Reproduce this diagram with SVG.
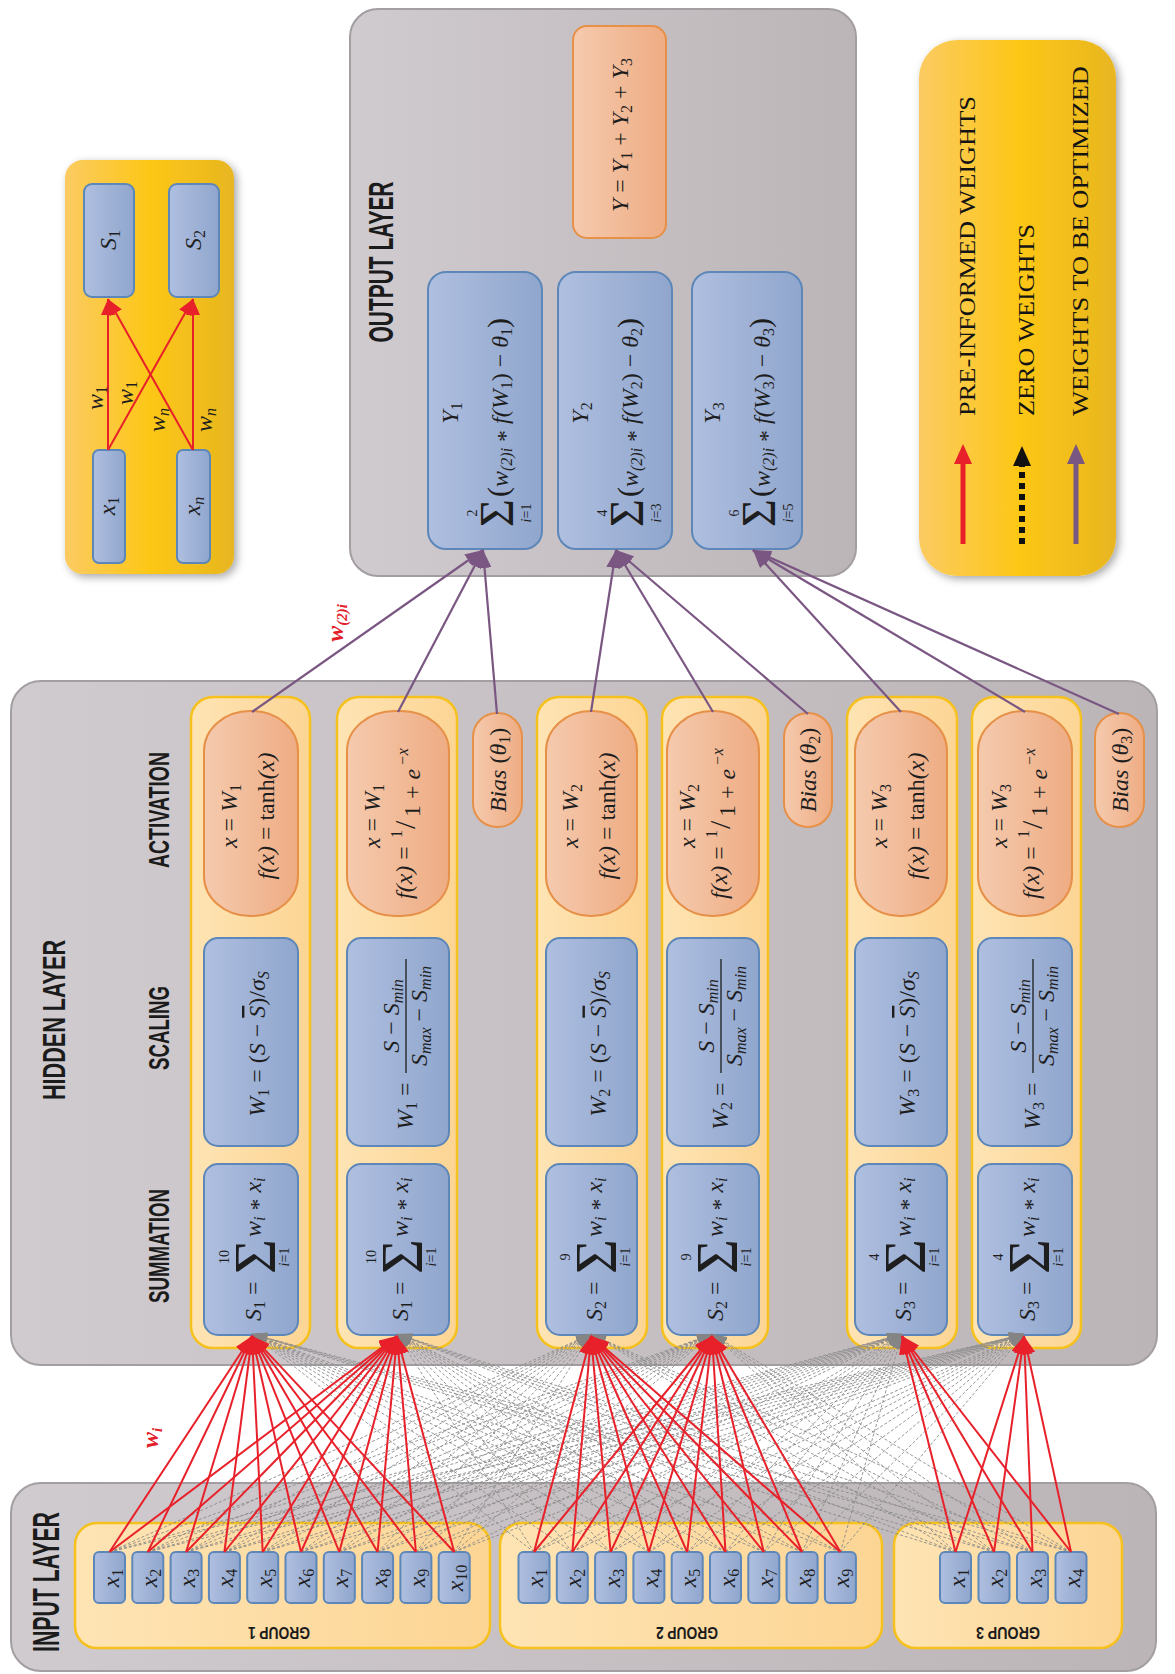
<svg xmlns="http://www.w3.org/2000/svg" width="1175" height="1674" viewBox="0 0 1175 1674">
<defs>
<linearGradient id="gGray" x1="0" y1="0" x2="1" y2="0"><stop offset="0" stop-color="#d0cbcf"/><stop offset="1" stop-color="#bcb5b8"/></linearGradient>
<linearGradient id="gYel" x1="0" y1="0" x2="1" y2="0"><stop offset="0" stop-color="#fbcb62"/><stop offset="0.5" stop-color="#fdc717"/><stop offset="1" stop-color="#e8b621"/></linearGradient>
<linearGradient id="gCol" x1="0" y1="0" x2="1" y2="0"><stop offset="0" stop-color="#fee4b4"/><stop offset="1" stop-color="#fcd594"/></linearGradient>
<linearGradient id="gBlue" x1="0" y1="0" x2="1" y2="0"><stop offset="0" stop-color="#afbfe0"/><stop offset="1" stop-color="#90a6cd"/></linearGradient>
<linearGradient id="gOra" x1="0" y1="0" x2="1" y2="0"><stop offset="0" stop-color="#f5caae"/><stop offset="1" stop-color="#eeac83"/></linearGradient>
<filter id="sh" x="-15%" y="-10%" width="135%" height="125%"><feDropShadow dx="3" dy="3" stdDeviation="4" flood-color="#000" flood-opacity="0.35"/></filter>
<marker id="aR" markerUnits="userSpaceOnUse" viewBox="0 0 10 10" refX="10" refY="5" markerWidth="18" markerHeight="15" orient="auto" preserveAspectRatio="none"><path d="M0 0L10 5L0 10z" fill="#e8202a"/></marker>
<marker id="aR2" markerUnits="userSpaceOnUse" viewBox="0 0 10 10" refX="10" refY="5" markerWidth="16" markerHeight="14" orient="auto" preserveAspectRatio="none"><path d="M0 0L10 5L0 10z" fill="#e8202a"/></marker>
<marker id="aG" markerUnits="userSpaceOnUse" viewBox="0 0 10 10" refX="10" refY="5" markerWidth="15" markerHeight="11" orient="auto" preserveAspectRatio="none"><path d="M0 0L10 5L0 10z" fill="#858585"/></marker>
<marker id="aP" markerUnits="userSpaceOnUse" viewBox="0 0 10 10" refX="10" refY="5" markerWidth="18" markerHeight="14" orient="auto" preserveAspectRatio="none"><path d="M0 0L10 5L0 10z" fill="#7a5682"/></marker>
<style>
.hd{font-family:"Liberation Sans Narrow","Liberation Sans",Arial,sans-serif;font-weight:bold;fill:#1b1b1b;text-anchor:middle}
.m{font-family:"Liberation Serif","Times New Roman",serif;font-style:italic;font-size:24px;fill:#1e1e1e}
.up{font-style:normal}
.sb{font-size:16px}
.sd{font-size:16px;font-style:normal}
.lim{font-family:"Liberation Serif","Times New Roman",serif;font-size:14px;fill:#1e1e1e;text-anchor:middle}
.sig{font-family:"Liberation Serif","Times New Roman",serif;font-size:60px;fill:#1e1e1e}
.sig2{font-family:"Liberation Serif","Times New Roman",serif;font-size:48px;fill:#1e1e1e}
.lg{font-family:"Liberation Serif","Times New Roman",serif;font-size:24px;fill:#141414}
.rl{font-family:"Liberation Serif","Times New Roman",serif;font-style:italic;font-weight:bold;font-size:24px;fill:#e3202a}
.pnl{fill:url(#gGray);stroke:#a39ea1;stroke-width:2}
.col{fill:url(#gCol);stroke:#f6c11c;stroke-width:2.5}
.blu{fill:url(#gBlue);stroke:#5d87b9;stroke-width:2}
.ora{fill:url(#gOra);stroke:#e69048;stroke-width:2}
.yel{fill:url(#gYel);filter:url(#sh)}
.red{stroke:#e8202a;stroke-width:2;fill:none;marker-end:url(#aR)}
.red2{stroke:#e8202a;stroke-width:2;fill:none;marker-end:url(#aR2)}
.gry{stroke:#8a8a8a;stroke-width:0.9;stroke-dasharray:3 2;fill:none;marker-end:url(#aG)}
.pur{stroke:#7a5682;stroke-width:2.2;fill:none;marker-end:url(#aP)}
</style>
</defs>

<!-- panels -->
<g id="panel-output"><rect class="pnl" x="350" y="9" width="506" height="567" rx="28"/>
<g transform="translate(380,262) rotate(-90)"><text class="hd" x="0" y="12.5" font-size="35" textLength="161" lengthAdjust="spacingAndGlyphs">OUTPUT LAYER</text></g></g>
<g id="panel-hidden"><rect class="pnl" x="11" y="681" width="1146" height="684" rx="30"/>
<g transform="translate(53,1020) rotate(-90)"><text class="hd" x="0" y="11.5" font-size="32" textLength="160" lengthAdjust="spacingAndGlyphs">HIDDEN LAYER</text></g>
<g transform="translate(158,810) rotate(-90)"><text class="hd" x="0" y="10.5" font-size="29" textLength="116" lengthAdjust="spacingAndGlyphs">ACTIVATION</text></g>
<g transform="translate(158,1028) rotate(-90)"><text class="hd" x="0" y="10.5" font-size="29" textLength="84" lengthAdjust="spacingAndGlyphs">SCALING</text></g>
<g transform="translate(158,1246) rotate(-90)"><text class="hd" x="0" y="10.5" font-size="29" textLength="114" lengthAdjust="spacingAndGlyphs">SUMMATION</text></g></g>
<g id="panel-input"><rect class="pnl" x="11" y="1483" width="1145" height="188" rx="30"/>
<g transform="translate(46,1582) rotate(-90)"><text class="hd" x="0" y="13" font-size="36" textLength="140" lengthAdjust="spacingAndGlyphs">INPUT LAYER</text></g></g>

<!-- legend top-left -->
<g id="legend-mini">
<rect class="yel" x="65" y="160" width="169" height="414" rx="18"/>
<g id="mini-x1"><rect class="blu" x="93" y="450" width="32" height="113" rx="6"/><g transform="translate(109,506) rotate(-90)"><text class="m" x="0" y="6" text-anchor="middle">x<tspan class="sd" dy="4">1</tspan></text></g></g>
<g id="mini-xn"><rect class="blu" x="177" y="450" width="33" height="113" rx="6"/><g transform="translate(193.5,506) rotate(-90)"><text class="m" x="0" y="6" text-anchor="middle">x<tspan class="sb" dy="4">n</tspan></text></g></g>
<g id="mini-s1"><rect class="blu" x="84" y="184" width="50" height="113" rx="8"/><g transform="translate(109,240) rotate(-90)"><text class="m" x="0" y="7" text-anchor="middle">S<tspan class="sd" dy="4">1</tspan></text></g></g>
<g id="mini-s2"><rect class="blu" x="169" y="184" width="50" height="113" rx="8"/><g transform="translate(194,240) rotate(-90)"><text class="m" x="0" y="7" text-anchor="middle">S<tspan class="sd" dy="4">2</tspan></text></g></g>
<g id="mini-arrows">
<path class="red2" d="M108 450L108 299"/><path class="red2" d="M108 450L193 299"/><path class="red2" d="M193 450L193 299"/><path class="red2" d="M193 450L108 299"/>
</g>
<g transform="translate(98,398) rotate(-90)"><text class="m" x="0" y="5" text-anchor="middle" font-size="22">w<tspan class="sd" dy="4">1</tspan></text></g>
<g transform="translate(128,393) rotate(-90)"><text class="m" x="0" y="5" text-anchor="middle" font-size="22">w<tspan class="sd" dy="4">1</tspan></text></g>
<g transform="translate(160,420) rotate(-90)"><text class="m" x="0" y="5" text-anchor="middle" font-size="22">w<tspan class="sb" dy="4">n</tspan></text></g>
<g transform="translate(207,420) rotate(-90)"><text class="m" x="0" y="5" text-anchor="middle" font-size="22">w<tspan class="sb" dy="4">n</tspan></text></g>
</g>

<!-- legend right -->
<g id="legend">
<rect class="yel" x="919" y="40" width="197" height="536" rx="38"/>
<path d="M963 544L963 460" stroke="#e8202a" stroke-width="5"/><path d="M954 464L963 444L972 464z" fill="#e8202a"/>
<path d="M1022 544L1022 466" stroke="#111" stroke-width="6" stroke-dasharray="6 5"/><path d="M1013 466L1022 446L1031 466z" fill="#111"/>
<path d="M1076 544L1076 460" stroke="#7a5682" stroke-width="5"/><path d="M1067 464L1076 444L1085 464z" fill="#7a5682"/>
<text class="lg" transform="translate(975,416) rotate(-90)" textLength="320" lengthAdjust="spacingAndGlyphs">PRE-INFORMED WEIGHTS</text>
<text class="lg" transform="translate(1034,416) rotate(-90)" textLength="192" lengthAdjust="spacingAndGlyphs">ZERO WEIGHTS</text>
<text class="lg" transform="translate(1088,416) rotate(-90)" textLength="350" lengthAdjust="spacingAndGlyphs">WEIGHTS TO BE OPTIMIZED</text>
</g>

<!-- output nodes -->
<g id="out-Y"><rect class="ora" x="573" y="26" width="93" height="212" rx="14"/>
<g transform="translate(620,133) rotate(-90)"><text class="m" x="-2" y="8" text-anchor="middle">Y <tspan class="up">=</tspan> Y<tspan class="sd" dy="4">1</tspan><tspan class="up" dy="-4"> + </tspan>Y<tspan class="sd" dy="4">2</tspan><tspan class="up" dy="-4"> + </tspan>Y<tspan class="sd" dy="4">3</tspan></text></g></g>
<g id="out-Y1"><rect class="blu" x="428" y="272" width="114" height="277" rx="18"/>
<g transform="translate(485,410) rotate(-90)">
<text class="m" x="-3" y="-27" text-anchor="middle">Y<tspan class="sd" dy="4">1</tspan></text>
<text class="sig2" x="-117" y="28">Σ</text><text class="lim" x="-103" y="-8">2</text><text class="lim" x="-103" y="46"><tspan font-style="italic">i</tspan>=1</text>
<text class="m" x="-87" y="23"><tspan class="up" font-size="30">(</tspan>w<tspan class="sb" dy="4">(2)i</tspan><tspan class="up" dy="1"> *</tspan><tspan dy="-5"> f(W</tspan><tspan class="sd" dy="4">1</tspan><tspan class="up" dy="-4">) − </tspan>θ<tspan class="sd" dy="4">1</tspan><tspan class="up" dy="-4" font-size="30">)</tspan></text>
</g></g>
<g id="out-Y2"><rect class="blu" x="558" y="272" width="114" height="277" rx="18"/>
<g transform="translate(615,410) rotate(-90)">
<text class="m" x="-3" y="-27" text-anchor="middle">Y<tspan class="sd" dy="4">2</tspan></text>
<text class="sig2" x="-117" y="28">Σ</text><text class="lim" x="-103" y="-8">4</text><text class="lim" x="-103" y="46"><tspan font-style="italic">i</tspan>=3</text>
<text class="m" x="-87" y="23"><tspan class="up" font-size="30">(</tspan>w<tspan class="sb" dy="4">(2)i</tspan><tspan class="up" dy="1"> *</tspan><tspan dy="-5"> f(W</tspan><tspan class="sd" dy="4">2</tspan><tspan class="up" dy="-4">) − </tspan>θ<tspan class="sd" dy="4">2</tspan><tspan class="up" dy="-4" font-size="30">)</tspan></text>
</g></g>
<g id="out-Y3"><rect class="blu" x="692" y="272" width="110" height="277" rx="18"/>
<g transform="translate(747,410) rotate(-90)">
<text class="m" x="-3" y="-27" text-anchor="middle">Y<tspan class="sd" dy="4">3</tspan></text>
<text class="sig2" x="-117" y="28">Σ</text><text class="lim" x="-103" y="-8">6</text><text class="lim" x="-103" y="46"><tspan font-style="italic">i</tspan>=5</text>
<text class="m" x="-87" y="23"><tspan class="up" font-size="30">(</tspan>w<tspan class="sb" dy="4">(2)i</tspan><tspan class="up" dy="1"> *</tspan><tspan dy="-5"> f(W</tspan><tspan class="sd" dy="4">3</tspan><tspan class="up" dy="-4">) − </tspan>θ<tspan class="sd" dy="4">3</tspan><tspan class="up" dy="-4" font-size="30">)</tspan></text>
</g></g>

<!-- hidden columns -->
<g id="h-col1"><rect class="col" x="191" y="697" width="119" height="651" rx="22"/>
<g id="act1a"><rect class="ora" x="204" y="711" width="94" height="205" rx="46" ry="40"/>
<g transform="translate(251,813) rotate(-90)"><text class="m" x="-3" y="-14" text-anchor="middle">x <tspan class="up">=</tspan> W<tspan class="sd" dy="4">1</tspan></text><text class="m" x="-3" y="23" text-anchor="middle">f(x) <tspan class="up">= tanh</tspan>(x)</text></g></g>
<g id="scl1a"><rect class="blu" x="204" y="938" width="94" height="208" rx="14"/>
<g transform="translate(251,1042) rotate(-90)"><text class="m" x="-2" y="14" text-anchor="middle">W<tspan class="sd" dy="4">1</tspan><tspan class="up" dy="-4"> = (</tspan>S<tspan class="up"> − </tspan><tspan text-decoration="overline">S</tspan><tspan class="up">)/</tspan>σ<tspan class="sb" dy="4">S</tspan></text></g></g>
<g id="sum1a"><rect class="blu" x="204" y="1164" width="94" height="171" rx="14"/>
<g transform="translate(251,1250) rotate(-90)"><text class="m" x="-71" y="10">S<tspan class="sd" dy="4">1</tspan><tspan class="up" dy="-4"> =</tspan></text><text class="sig" x="-24" y="24">Σ</text><text class="lim" x="-7" y="-22">10</text><text class="lim" x="-7" y="38"><tspan font-style="italic">i</tspan>=1</text><text class="m" x="13" y="10">w<tspan class="sb" dy="4">i</tspan><tspan class="up" dy="1"> * </tspan><tspan dy="-5">x</tspan><tspan class="sb" dy="4">i</tspan></text></g></g>
</g>

<g id="h-col2"><rect class="col" x="337" y="697" width="120" height="651" rx="22"/>
<g id="act1b"><rect class="ora" x="347" y="711" width="102" height="205" rx="48" ry="40"/>
<g transform="translate(398,813) rotate(-90)"><text class="m" x="-3" y="-18" text-anchor="middle">x <tspan class="up">=</tspan> W<tspan class="sd" dy="4">1</tspan></text><text class="m" x="-86" y="14">f(x) <tspan class="up">=</tspan><tspan class="sd" x="-25" y="4">1</tspan><tspan class="up" x="-16" y="17" font-size="30">/</tspan><tspan class="up" x="-4" y="22">1 + </tspan><tspan>e</tspan><tspan class="sb" x="47" y="10">−x</tspan></text></g></g>
<g id="scl1b"><rect class="blu" x="347" y="938" width="102" height="208" rx="14"/>
<g transform="translate(398,1042) rotate(-90)"><text class="m" x="-88" y="15">W<tspan class="sd" dy="4">1</tspan><tspan class="up" dy="-4"> =</tspan></text><text class="m" x="26" y="1" text-anchor="middle">S<tspan class="up"> − </tspan>S<tspan class="sb" dy="4">min</tspan></text><line x1="-31" y1="8" x2="83" y2="8" stroke="#1e1e1e" stroke-width="1.3"/><text class="m" x="26" y="29" text-anchor="middle">S<tspan class="sb" dy="4">max</tspan><tspan class="up" dy="-4"> − </tspan>S<tspan class="sb" dy="4">min</tspan></text></g></g>
<g id="sum1b"><rect class="blu" x="347" y="1164" width="102" height="171" rx="14"/>
<g transform="translate(398,1250) rotate(-90)"><text class="m" x="-71" y="10">S<tspan class="sd" dy="4">1</tspan><tspan class="up" dy="-4"> =</tspan></text><text class="sig" x="-24" y="24">Σ</text><text class="lim" x="-7" y="-22">10</text><text class="lim" x="-7" y="38"><tspan font-style="italic">i</tspan>=1</text><text class="m" x="13" y="10">w<tspan class="sb" dy="4">i</tspan><tspan class="up" dy="1"> * </tspan><tspan dy="-5">x</tspan><tspan class="sb" dy="4">i</tspan></text></g></g>
</g>

<g id="bias1"><rect class="ora" x="473" y="713" width="49" height="114" rx="24"/>
<g transform="translate(497.5,770) rotate(-90)"><text class="m" x="0" y="8" text-anchor="middle">Bias <tspan class="up">(</tspan>θ<tspan class="sd" dy="4">1</tspan><tspan class="up" dy="-4">)</tspan></text></g></g>

<g id="h-col3"><rect class="col" x="537" y="697" width="110" height="651" rx="22"/>
<g id="act2a"><rect class="ora" x="546" y="711" width="91" height="205" rx="45" ry="40"/>
<g transform="translate(591.5,813) rotate(-90)"><text class="m" x="-3" y="-14" text-anchor="middle">x <tspan class="up">=</tspan> W<tspan class="sd" dy="4">2</tspan></text><text class="m" x="-3" y="23" text-anchor="middle">f(x) <tspan class="up">= tanh</tspan>(x)</text></g></g>
<g id="scl2a"><rect class="blu" x="546" y="938" width="91" height="208" rx="14"/>
<g transform="translate(591.5,1042) rotate(-90)"><text class="m" x="-2" y="14" text-anchor="middle">W<tspan class="sd" dy="4">2</tspan><tspan class="up" dy="-4"> = (</tspan>S<tspan class="up"> − </tspan><tspan text-decoration="overline">S</tspan><tspan class="up">)/</tspan>σ<tspan class="sb" dy="4">S</tspan></text></g></g>
<g id="sum2a"><rect class="blu" x="546" y="1164" width="91" height="171" rx="14"/>
<g transform="translate(591.5,1250) rotate(-90)"><text class="m" x="-71" y="10">S<tspan class="sd" dy="4">2</tspan><tspan class="up" dy="-4"> =</tspan></text><text class="sig" x="-24" y="24">Σ</text><text class="lim" x="-7" y="-22">9</text><text class="lim" x="-7" y="38"><tspan font-style="italic">i</tspan>=1</text><text class="m" x="13" y="10">w<tspan class="sb" dy="4">i</tspan><tspan class="up" dy="1"> * </tspan><tspan dy="-5">x</tspan><tspan class="sb" dy="4">i</tspan></text></g></g>
</g>

<g id="h-col4"><rect class="col" x="662" y="697" width="106" height="651" rx="22"/>
<g id="act2b"><rect class="ora" x="667" y="711" width="92" height="205" rx="45" ry="40"/>
<g transform="translate(713,813) rotate(-90)"><text class="m" x="-3" y="-18" text-anchor="middle">x <tspan class="up">=</tspan> W<tspan class="sd" dy="4">2</tspan></text><text class="m" x="-86" y="14">f(x) <tspan class="up">=</tspan><tspan class="sd" x="-25" y="4">1</tspan><tspan class="up" x="-16" y="17" font-size="30">/</tspan><tspan class="up" x="-4" y="22">1 + </tspan><tspan>e</tspan><tspan class="sb" x="47" y="10">−x</tspan></text></g></g>
<g id="scl2b"><rect class="blu" x="667" y="938" width="92" height="208" rx="14"/>
<g transform="translate(713,1042) rotate(-90)"><text class="m" x="-88" y="15">W<tspan class="sd" dy="4">2</tspan><tspan class="up" dy="-4"> =</tspan></text><text class="m" x="26" y="1" text-anchor="middle">S<tspan class="up"> − </tspan>S<tspan class="sb" dy="4">min</tspan></text><line x1="-31" y1="8" x2="83" y2="8" stroke="#1e1e1e" stroke-width="1.3"/><text class="m" x="26" y="29" text-anchor="middle">S<tspan class="sb" dy="4">max</tspan><tspan class="up" dy="-4"> − </tspan>S<tspan class="sb" dy="4">min</tspan></text></g></g>
<g id="sum2b"><rect class="blu" x="667" y="1164" width="92" height="171" rx="14"/>
<g transform="translate(713,1250) rotate(-90)"><text class="m" x="-71" y="10">S<tspan class="sd" dy="4">2</tspan><tspan class="up" dy="-4"> =</tspan></text><text class="sig" x="-24" y="24">Σ</text><text class="lim" x="-7" y="-22">9</text><text class="lim" x="-7" y="38"><tspan font-style="italic">i</tspan>=1</text><text class="m" x="13" y="10">w<tspan class="sb" dy="4">i</tspan><tspan class="up" dy="1"> * </tspan><tspan dy="-5">x</tspan><tspan class="sb" dy="4">i</tspan></text></g></g>
</g>

<g id="bias2"><rect class="ora" x="784" y="713" width="48" height="114" rx="24"/>
<g transform="translate(808,770) rotate(-90)"><text class="m" x="0" y="8" text-anchor="middle">Bias <tspan class="up">(</tspan>θ<tspan class="sd" dy="4">2</tspan><tspan class="up" dy="-4">)</tspan></text></g></g>

<g id="h-col5"><rect class="col" x="847" y="697" width="110" height="651" rx="22"/>
<g id="act3a"><rect class="ora" x="855" y="711" width="92" height="205" rx="45" ry="40"/>
<g transform="translate(901,813) rotate(-90)"><text class="m" x="-3" y="-14" text-anchor="middle">x <tspan class="up">=</tspan> W<tspan class="sd" dy="4">3</tspan></text><text class="m" x="-3" y="23" text-anchor="middle">f(x) <tspan class="up">= tanh</tspan>(x)</text></g></g>
<g id="scl3a"><rect class="blu" x="855" y="938" width="92" height="208" rx="14"/>
<g transform="translate(901,1042) rotate(-90)"><text class="m" x="-2" y="14" text-anchor="middle">W<tspan class="sd" dy="4">3</tspan><tspan class="up" dy="-4"> = (</tspan>S<tspan class="up"> − </tspan><tspan text-decoration="overline">S</tspan><tspan class="up">)/</tspan>σ<tspan class="sb" dy="4">S</tspan></text></g></g>
<g id="sum3a"><rect class="blu" x="855" y="1164" width="92" height="171" rx="14"/>
<g transform="translate(901,1250) rotate(-90)"><text class="m" x="-71" y="10">S<tspan class="sd" dy="4">3</tspan><tspan class="up" dy="-4"> =</tspan></text><text class="sig" x="-24" y="24">Σ</text><text class="lim" x="-7" y="-22">4</text><text class="lim" x="-7" y="38"><tspan font-style="italic">i</tspan>=1</text><text class="m" x="13" y="10">w<tspan class="sb" dy="4">i</tspan><tspan class="up" dy="1"> * </tspan><tspan dy="-5">x</tspan><tspan class="sb" dy="4">i</tspan></text></g></g>
</g>

<g id="h-col6"><rect class="col" x="972" y="697" width="109" height="651" rx="22"/>
<g id="act3b"><rect class="ora" x="978" y="711" width="94" height="205" rx="46" ry="40"/>
<g transform="translate(1025,813) rotate(-90)"><text class="m" x="-3" y="-18" text-anchor="middle">x <tspan class="up">=</tspan> W<tspan class="sd" dy="4">3</tspan></text><text class="m" x="-86" y="14">f(x) <tspan class="up">=</tspan><tspan class="sd" x="-25" y="4">1</tspan><tspan class="up" x="-16" y="17" font-size="30">/</tspan><tspan class="up" x="-4" y="22">1 + </tspan><tspan>e</tspan><tspan class="sb" x="47" y="10">−x</tspan></text></g></g>
<g id="scl3b"><rect class="blu" x="978" y="938" width="94" height="208" rx="14"/>
<g transform="translate(1025,1042) rotate(-90)"><text class="m" x="-88" y="15">W<tspan class="sd" dy="4">3</tspan><tspan class="up" dy="-4"> =</tspan></text><text class="m" x="26" y="1" text-anchor="middle">S<tspan class="up"> − </tspan>S<tspan class="sb" dy="4">min</tspan></text><line x1="-31" y1="8" x2="83" y2="8" stroke="#1e1e1e" stroke-width="1.3"/><text class="m" x="26" y="29" text-anchor="middle">S<tspan class="sb" dy="4">max</tspan><tspan class="up" dy="-4"> − </tspan>S<tspan class="sb" dy="4">min</tspan></text></g></g>
<g id="sum3b"><rect class="blu" x="978" y="1164" width="94" height="171" rx="14"/>
<g transform="translate(1025,1250) rotate(-90)"><text class="m" x="-71" y="10">S<tspan class="sd" dy="4">3</tspan><tspan class="up" dy="-4"> =</tspan></text><text class="sig" x="-24" y="24">Σ</text><text class="lim" x="-7" y="-22">4</text><text class="lim" x="-7" y="38"><tspan font-style="italic">i</tspan>=1</text><text class="m" x="13" y="10">w<tspan class="sb" dy="4">i</tspan><tspan class="up" dy="1"> * </tspan><tspan dy="-5">x</tspan><tspan class="sb" dy="4">i</tspan></text></g></g>
</g>

<g id="bias3"><rect class="ora" x="1095" y="713" width="49" height="114" rx="24"/>
<g transform="translate(1119.5,770) rotate(-90)"><text class="m" x="0" y="8" text-anchor="middle">Bias <tspan class="up">(</tspan>θ<tspan class="sd" dy="4">3</tspan><tspan class="up" dy="-4">)</tspan></text></g></g>

<!-- input groups -->
<g id="group1"><rect class="col" x="75" y="1523" width="415" height="125" rx="22"/>
<g transform="translate(279,1633) rotate(180)"><text class="hd" x="0" y="6" font-size="17" textLength="62" lengthAdjust="spacingAndGlyphs">GROUP 1</text></g>
<g id="g1x1"><rect class="blu" x="94" y="1552" width="31" height="51" rx="5"/><g transform="translate(109.5,1578) rotate(-90)"><text class="m" x="0" y="9" text-anchor="middle">x<tspan class="sd" dy="4">1</tspan></text></g></g>
<g id="g1x2"><rect class="blu" x="132.3" y="1552" width="31" height="51" rx="5"/><g transform="translate(147.8,1578) rotate(-90)"><text class="m" x="0" y="9" text-anchor="middle">x<tspan class="sd" dy="4">2</tspan></text></g></g>
<g id="g1x3"><rect class="blu" x="170.6" y="1552" width="31" height="51" rx="5"/><g transform="translate(186.1,1578) rotate(-90)"><text class="m" x="0" y="9" text-anchor="middle">x<tspan class="sd" dy="4">3</tspan></text></g></g>
<g id="g1x4"><rect class="blu" x="208.9" y="1552" width="31" height="51" rx="5"/><g transform="translate(224.4,1578) rotate(-90)"><text class="m" x="0" y="9" text-anchor="middle">x<tspan class="sd" dy="4">4</tspan></text></g></g>
<g id="g1x5"><rect class="blu" x="247.2" y="1552" width="31" height="51" rx="5"/><g transform="translate(262.7,1578) rotate(-90)"><text class="m" x="0" y="9" text-anchor="middle">x<tspan class="sd" dy="4">5</tspan></text></g></g>
<g id="g1x6"><rect class="blu" x="285.5" y="1552" width="31" height="51" rx="5"/><g transform="translate(301,1578) rotate(-90)"><text class="m" x="0" y="9" text-anchor="middle">x<tspan class="sd" dy="4">6</tspan></text></g></g>
<g id="g1x7"><rect class="blu" x="323.8" y="1552" width="31" height="51" rx="5"/><g transform="translate(339.3,1578) rotate(-90)"><text class="m" x="0" y="9" text-anchor="middle">x<tspan class="sd" dy="4">7</tspan></text></g></g>
<g id="g1x8"><rect class="blu" x="362.1" y="1552" width="31" height="51" rx="5"/><g transform="translate(377.6,1578) rotate(-90)"><text class="m" x="0" y="9" text-anchor="middle">x<tspan class="sd" dy="4">8</tspan></text></g></g>
<g id="g1x9"><rect class="blu" x="400.4" y="1552" width="31" height="51" rx="5"/><g transform="translate(415.9,1578) rotate(-90)"><text class="m" x="0" y="9" text-anchor="middle">x<tspan class="sd" dy="4">9</tspan></text></g></g>
<g id="g1x10"><rect class="blu" x="438.7" y="1552" width="31" height="51" rx="5"/><g transform="translate(454.2,1578) rotate(-90)"><text class="m" x="0" y="9" text-anchor="middle">x<tspan class="sd" dy="4">10</tspan></text></g></g>
</g>
<g id="group2"><rect class="col" x="500" y="1523" width="382" height="125" rx="22"/>
<g transform="translate(687,1633) rotate(180)"><text class="hd" x="0" y="6" font-size="17" textLength="62" lengthAdjust="spacingAndGlyphs">GROUP 2</text></g>
<g id="g2x1"><rect class="blu" x="518.5" y="1552" width="31" height="51" rx="5"/><g transform="translate(534,1578) rotate(-90)"><text class="m" x="0" y="9" text-anchor="middle">x<tspan class="sd" dy="4">1</tspan></text></g></g>
<g id="g2x2"><rect class="blu" x="556.8" y="1552" width="31" height="51" rx="5"/><g transform="translate(572.3,1578) rotate(-90)"><text class="m" x="0" y="9" text-anchor="middle">x<tspan class="sd" dy="4">2</tspan></text></g></g>
<g id="g2x3"><rect class="blu" x="595.1" y="1552" width="31" height="51" rx="5"/><g transform="translate(610.6,1578) rotate(-90)"><text class="m" x="0" y="9" text-anchor="middle">x<tspan class="sd" dy="4">3</tspan></text></g></g>
<g id="g2x4"><rect class="blu" x="633.4" y="1552" width="31" height="51" rx="5"/><g transform="translate(648.9,1578) rotate(-90)"><text class="m" x="0" y="9" text-anchor="middle">x<tspan class="sd" dy="4">4</tspan></text></g></g>
<g id="g2x5"><rect class="blu" x="671.7" y="1552" width="31" height="51" rx="5"/><g transform="translate(687.2,1578) rotate(-90)"><text class="m" x="0" y="9" text-anchor="middle">x<tspan class="sd" dy="4">5</tspan></text></g></g>
<g id="g2x6"><rect class="blu" x="710" y="1552" width="31" height="51" rx="5"/><g transform="translate(725.5,1578) rotate(-90)"><text class="m" x="0" y="9" text-anchor="middle">x<tspan class="sd" dy="4">6</tspan></text></g></g>
<g id="g2x7"><rect class="blu" x="748.3" y="1552" width="31" height="51" rx="5"/><g transform="translate(763.8,1578) rotate(-90)"><text class="m" x="0" y="9" text-anchor="middle">x<tspan class="sd" dy="4">7</tspan></text></g></g>
<g id="g2x8"><rect class="blu" x="786.6" y="1552" width="31" height="51" rx="5"/><g transform="translate(802.1,1578) rotate(-90)"><text class="m" x="0" y="9" text-anchor="middle">x<tspan class="sd" dy="4">8</tspan></text></g></g>
<g id="g2x9"><rect class="blu" x="824.9" y="1552" width="31" height="51" rx="5"/><g transform="translate(840.4,1578) rotate(-90)"><text class="m" x="0" y="9" text-anchor="middle">x<tspan class="sd" dy="4">9</tspan></text></g></g>
</g>
<g id="group3"><rect class="col" x="894" y="1523" width="228" height="125" rx="22"/>
<g transform="translate(1008,1633) rotate(180)"><text class="hd" x="0" y="6" font-size="17" textLength="64" lengthAdjust="spacingAndGlyphs">GROUP 3</text></g>
<g id="g3x1"><rect class="blu" x="940" y="1552" width="31" height="51" rx="5"/><g transform="translate(955.5,1578) rotate(-90)"><text class="m" x="0" y="9" text-anchor="middle">x<tspan class="sd" dy="4">1</tspan></text></g></g>
<g id="g3x2"><rect class="blu" x="978.5" y="1552" width="31" height="51" rx="5"/><g transform="translate(994,1578) rotate(-90)"><text class="m" x="0" y="9" text-anchor="middle">x<tspan class="sd" dy="4">2</tspan></text></g></g>
<g id="g3x3"><rect class="blu" x="1017" y="1552" width="31" height="51" rx="5"/><g transform="translate(1032.5,1578) rotate(-90)"><text class="m" x="0" y="9" text-anchor="middle">x<tspan class="sd" dy="4">3</tspan></text></g></g>
<g id="g3x4"><rect class="blu" x="1055.5" y="1552" width="31" height="51" rx="5"/><g transform="translate(1071,1578) rotate(-90)"><text class="m" x="0" y="9" text-anchor="middle">x<tspan class="sd" dy="4">4</tspan></text></g></g>
</g>

<!-- connectors -->
<g id="connectors">
<g id="zero-weights">
<path class="gry" d="M109.5 1552L591 1334"/><path class="gry" d="M147.8 1552L591 1334"/><path class="gry" d="M186.1 1552L591 1334"/><path class="gry" d="M224.4 1552L591 1334"/><path class="gry" d="M262.7 1552L591 1334"/><path class="gry" d="M301 1552L591 1334"/><path class="gry" d="M339.3 1552L591 1334"/><path class="gry" d="M377.6 1552L591 1334"/><path class="gry" d="M415.9 1552L591 1334"/><path class="gry" d="M454.2 1552L591 1334"/>
<path class="gry" d="M109.5 1552L712 1334"/><path class="gry" d="M147.8 1552L712 1334"/><path class="gry" d="M186.1 1552L712 1334"/><path class="gry" d="M224.4 1552L712 1334"/><path class="gry" d="M262.7 1552L712 1334"/><path class="gry" d="M301 1552L712 1334"/><path class="gry" d="M339.3 1552L712 1334"/><path class="gry" d="M377.6 1552L712 1334"/><path class="gry" d="M415.9 1552L712 1334"/><path class="gry" d="M454.2 1552L712 1334"/>
<path class="gry" d="M109.5 1552L902 1334"/><path class="gry" d="M147.8 1552L902 1334"/><path class="gry" d="M186.1 1552L902 1334"/><path class="gry" d="M224.4 1552L902 1334"/><path class="gry" d="M262.7 1552L902 1334"/><path class="gry" d="M301 1552L902 1334"/><path class="gry" d="M339.3 1552L902 1334"/><path class="gry" d="M377.6 1552L902 1334"/><path class="gry" d="M415.9 1552L902 1334"/><path class="gry" d="M454.2 1552L902 1334"/>
<path class="gry" d="M109.5 1552L1024 1334"/><path class="gry" d="M147.8 1552L1024 1334"/><path class="gry" d="M186.1 1552L1024 1334"/><path class="gry" d="M224.4 1552L1024 1334"/><path class="gry" d="M262.7 1552L1024 1334"/><path class="gry" d="M301 1552L1024 1334"/><path class="gry" d="M339.3 1552L1024 1334"/><path class="gry" d="M377.6 1552L1024 1334"/><path class="gry" d="M415.9 1552L1024 1334"/><path class="gry" d="M454.2 1552L1024 1334"/>
<path class="gry" d="M534 1552L252 1334"/><path class="gry" d="M572.3 1552L252 1334"/><path class="gry" d="M610.6 1552L252 1334"/><path class="gry" d="M648.9 1552L252 1334"/><path class="gry" d="M687.2 1552L252 1334"/><path class="gry" d="M725.5 1552L252 1334"/><path class="gry" d="M763.8 1552L252 1334"/><path class="gry" d="M802.1 1552L252 1334"/><path class="gry" d="M840.4 1552L252 1334"/>
<path class="gry" d="M534 1552L397 1334"/><path class="gry" d="M572.3 1552L397 1334"/><path class="gry" d="M610.6 1552L397 1334"/><path class="gry" d="M648.9 1552L397 1334"/><path class="gry" d="M687.2 1552L397 1334"/><path class="gry" d="M725.5 1552L397 1334"/><path class="gry" d="M763.8 1552L397 1334"/><path class="gry" d="M802.1 1552L397 1334"/><path class="gry" d="M840.4 1552L397 1334"/>
<path class="gry" d="M534 1552L902 1334"/><path class="gry" d="M572.3 1552L902 1334"/><path class="gry" d="M610.6 1552L902 1334"/><path class="gry" d="M648.9 1552L902 1334"/><path class="gry" d="M687.2 1552L902 1334"/><path class="gry" d="M725.5 1552L902 1334"/><path class="gry" d="M763.8 1552L902 1334"/><path class="gry" d="M802.1 1552L902 1334"/><path class="gry" d="M840.4 1552L902 1334"/>
<path class="gry" d="M534 1552L1024 1334"/><path class="gry" d="M572.3 1552L1024 1334"/><path class="gry" d="M610.6 1552L1024 1334"/><path class="gry" d="M648.9 1552L1024 1334"/><path class="gry" d="M687.2 1552L1024 1334"/><path class="gry" d="M725.5 1552L1024 1334"/><path class="gry" d="M763.8 1552L1024 1334"/><path class="gry" d="M802.1 1552L1024 1334"/><path class="gry" d="M840.4 1552L1024 1334"/>
<path class="gry" d="M955.5 1552L252 1334"/><path class="gry" d="M994 1552L252 1334"/><path class="gry" d="M1032.5 1552L252 1334"/><path class="gry" d="M1071 1552L252 1334"/>
<path class="gry" d="M955.5 1552L397 1334"/><path class="gry" d="M994 1552L397 1334"/><path class="gry" d="M1032.5 1552L397 1334"/><path class="gry" d="M1071 1552L397 1334"/>
<path class="gry" d="M955.5 1552L591 1334"/><path class="gry" d="M994 1552L591 1334"/><path class="gry" d="M1032.5 1552L591 1334"/><path class="gry" d="M1071 1552L591 1334"/>
<path class="gry" d="M955.5 1552L712 1334"/><path class="gry" d="M994 1552L712 1334"/><path class="gry" d="M1032.5 1552L712 1334"/><path class="gry" d="M1071 1552L712 1334"/>
</g>
<g id="pre-informed-weights">
<path class="red" d="M109.5 1552L252 1336"/><path class="red" d="M147.8 1552L252 1336"/><path class="red" d="M186.1 1552L252 1336"/><path class="red" d="M224.4 1552L252 1336"/><path class="red" d="M262.7 1552L252 1336"/><path class="red" d="M301 1552L252 1336"/><path class="red" d="M339.3 1552L252 1336"/><path class="red" d="M377.6 1552L252 1336"/><path class="red" d="M415.9 1552L252 1336"/><path class="red" d="M454.2 1552L252 1336"/>
<path class="red" d="M109.5 1552L397 1336"/><path class="red" d="M147.8 1552L397 1336"/><path class="red" d="M186.1 1552L397 1336"/><path class="red" d="M224.4 1552L397 1336"/><path class="red" d="M262.7 1552L397 1336"/><path class="red" d="M301 1552L397 1336"/><path class="red" d="M339.3 1552L397 1336"/><path class="red" d="M377.6 1552L397 1336"/><path class="red" d="M415.9 1552L397 1336"/><path class="red" d="M454.2 1552L397 1336"/>
<path class="red" d="M534 1552L591 1336"/><path class="red" d="M572.3 1552L591 1336"/><path class="red" d="M610.6 1552L591 1336"/><path class="red" d="M648.9 1552L591 1336"/><path class="red" d="M687.2 1552L591 1336"/><path class="red" d="M725.5 1552L591 1336"/><path class="red" d="M763.8 1552L591 1336"/><path class="red" d="M802.1 1552L591 1336"/><path class="red" d="M840.4 1552L591 1336"/>
<path class="red" d="M534 1552L712 1336"/><path class="red" d="M572.3 1552L712 1336"/><path class="red" d="M610.6 1552L712 1336"/><path class="red" d="M648.9 1552L712 1336"/><path class="red" d="M687.2 1552L712 1336"/><path class="red" d="M725.5 1552L712 1336"/><path class="red" d="M763.8 1552L712 1336"/><path class="red" d="M802.1 1552L712 1336"/><path class="red" d="M840.4 1552L712 1336"/>
<path class="red" d="M955.5 1552L902 1336"/><path class="red" d="M994 1552L902 1336"/><path class="red" d="M1032.5 1552L902 1336"/><path class="red" d="M1071 1552L902 1336"/>
<path class="red" d="M955.5 1552L1024 1336"/><path class="red" d="M994 1552L1024 1336"/><path class="red" d="M1032.5 1552L1024 1336"/><path class="red" d="M1071 1552L1024 1336"/>
</g>
<g id="optimized-weights">
<path class="pur" d="M252 712L483 550"/><path class="pur" d="M398 712L483 550"/><path class="pur" d="M497 714L483 550"/>
<path class="pur" d="M591 712L616 550"/><path class="pur" d="M713 712L616 550"/><path class="pur" d="M808 714L616 550"/>
<path class="pur" d="M901 712L753 550"/><path class="pur" d="M1025 712L753 550"/><path class="pur" d="M1119 714L753 550"/>
</g>
<g transform="translate(153,1438) rotate(-90)"><text class="rl" x="0" y="5" text-anchor="middle">w<tspan font-size="15" dy="4">i</tspan></text></g>
<g transform="translate(340,623) rotate(-90)"><text class="rl" x="0" y="3" text-anchor="middle">w<tspan font-size="15" dy="4">(2)i</tspan></text></g>
</g>
</svg>
